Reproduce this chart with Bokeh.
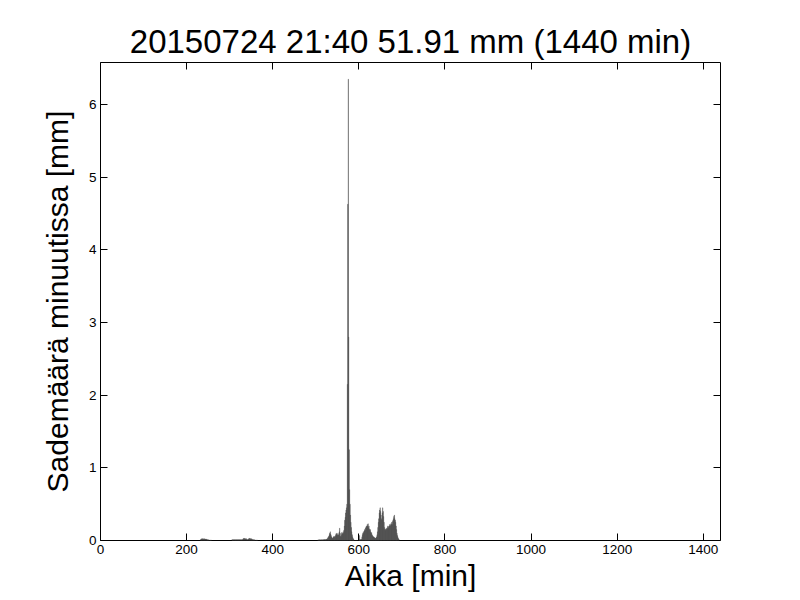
import numpy as np
from bokeh.plotting import figure
from bokeh.models import Range1d, FixedTicker, LinearAxis, ColumnDataSource
from bokeh.embed import file_html
from bokeh.resources import INLINE

title_text = "20150724 21:40 51.91 mm (1440 min)"
x_label = "Aika [min]"
y_label = "Sademäärä minuutissa [mm]"
x_ticks = [0, 200, 400, 600, 800, 1000, 1200, 1400]
y_ticks = [0, 1, 2, 3, 4, 5, 6]

# rain per minute [mm], clusters given as (start minute, values)
rain_a_start = 232
rain_a = [0.01, 0.02, 0.02, 0.025, 0.025, 0.02, 0.025, 0.02, 0.02, 0.025,
          0.02, 0.02, 0.015, 0.02, 0.015, 0.01, 0.01, 0.01, 0.01, 0.005,
          0.005, 0.005, 0.005, 0.005, 0.005, 0.005]

rain_b_start = 305
rain_b = [0.01, 0.01, 0.01, 0.01, 0.01, 0.01, 0.01, 0.01, 0.01, 0.01,
          0.01, 0.01, 0.01, 0.01, 0.01, 0.01, 0.01, 0.01, 0.01, 0.01,
          0.01, 0.01, 0.01, 0.01, 0.01, 0.015, 0.025, 0.025, 0.03, 0.025,
          0.025, 0.02, 0.025, 0.025, 0.015, 0.012, 0.012, 0.012, 0.02, 0.025,
          0.025, 0.03, 0.025, 0.025, 0.02, 0.025, 0.02, 0.015, 0.01, 0.01,
          0.01, 0.01, 0.01, 0.005, 0.005, 0.005, 0.005, 0.005, 0.005, 0.005]

rain_c_start = 504
rain_c = [0.005, 0.005, 0.01, 0.005, 0.01, 0.01, 0.005, 0.01, 0.01, 0.01,
          0.005, 0.01, 0.01, 0.01, 0.01, 0.015, 0.01, 0.01, 0.015, 0.01,
          0.015, 0.02, 0.02, 0.03, 0.04, 0.05, 0.06, 0.08, 0.1, 0.12,
          0.09, 0.07, 0.05, 0.04, 0.03, 0.03, 0.04, 0.05, 0.06, 0.05,
          0.04, 0.06, 0.08, 0.1, 0.09, 0.07, 0.08, 0.1, 0.08, 0.07,
          0.12, 0.17, 0.1, 0.06, 0.05, 0.08, 0.11, 0.1, 0.09, 0.12,
          0.1, 0.14, 0.2, 0.28, 0.32, 0.38, 0.42, 0.45, 0.5, 2.15,
          4.63, 6.35, 2.8, 1.25, 0.7, 0.5, 0.35, 0.25, 0.18, 0.12,
          0.08, 0.05, 0.03, 0.02, 0.01, 0.0, 0.0, 0.0, 0.0, 0.0,
          0.0, 0.005, 0.0, 0.0, 0.0, 0.0, 0.0, 0.07, 0.02, 0.01,
          0.01, 0.01, 0.02, 0.05, 0.08, 0.1, 0.12, 0.1, 0.13, 0.15,
          0.14, 0.17, 0.18, 0.2, 0.19, 0.22, 0.2, 0.23, 0.18, 0.2,
          0.16, 0.14, 0.15, 0.12, 0.1, 0.11, 0.08, 0.07, 0.06, 0.05,
          0.05, 0.04, 0.04, 0.03, 0.03, 0.03, 0.04, 0.05, 0.08, 0.12,
          0.18, 0.25, 0.3, 0.38, 0.42, 0.45, 0.4, 0.35, 0.3, 0.28,
          0.38, 0.45, 0.4, 0.33, 0.25, 0.18, 0.15, 0.14, 0.16, 0.15,
          0.17, 0.16, 0.18, 0.2, 0.17, 0.19, 0.2, 0.22, 0.2, 0.21,
          0.23, 0.22, 0.25, 0.22, 0.26, 0.28, 0.3, 0.33, 0.35, 0.3,
          0.28, 0.25, 0.2, 0.15, 0.1, 0.07, 0.05, 0.03, 0.02, 0.01]

minutes = []
values = []
for start, vals in ((rain_a_start, rain_a), (rain_b_start, rain_b), (rain_c_start, rain_c)):
    minutes.extend(range(start, start + len(vals)))
    values.extend(vals)
minutes = np.array(minutes, dtype=float)
values = np.array(values, dtype=float)

src = ColumnDataSource(dict(x=minutes + 0.5, top=values))

FONT = "Liberation Sans"

p = figure(width=800, height=600, output_backend="svg", toolbar_location=None,
           x_range=Range1d(0, 1440), y_range=Range1d(0, 6.58),
           min_border_left=100, min_border_right=80, min_border_top=62, min_border_bottom=60,
           x_axis_label=x_label, y_axis_label=y_label)
p.title.text = title_text
p.title.align = "center"
p.title.text_font = FONT
p.title.text_font_size = "33px"
p.title.text_font_style = "normal"
p.title.text_color = "black"
p.title.standoff = 5

p.vbar(x="x", top="top", width=1.0, bottom=0, source=src,
       fill_color="#4a4a4a", line_color="#4a4a4a", line_width=0.3)

p.grid.visible = False
p.outline_line_color = "black"
p.outline_line_width = 1
p.background_fill_color = "white"
p.border_fill_color = "white"

def style_axis(ax, ticks, labels=True):
    ax.ticker = FixedTicker(ticks=ticks)
    ax.axis_line_color = None
    ax.major_tick_in = 7
    ax.major_tick_out = 0
    ax.major_tick_line_color = "black"
    ax.minor_tick_line_color = None
    ax.major_label_text_font = FONT
    ax.major_label_text_font_size = "13.5px" if labels else "0px"
    ax.major_label_text_color = "black"
    ax.axis_label_text_font = FONT
    ax.axis_label_text_font_style = "normal"
    ax.axis_label_text_color = "black"

style_axis(p.xaxis[0], x_ticks)
style_axis(p.yaxis[0], y_ticks)
p.xaxis[0].axis_label_text_font_size = "30px"
p.yaxis[0].axis_label_text_font_size = "30px"
p.xaxis[0].major_label_standoff = 4
p.yaxis[0].major_label_standoff = 4
p.xaxis[0].axis_label_standoff = 2
p.yaxis[0].axis_label_standoff = 12

top_ax = LinearAxis()
style_axis(top_ax, x_ticks, labels=False)
top_ax.major_label_standoff = 0
p.add_layout(top_ax, "above")
right_ax = LinearAxis()
style_axis(right_ax, y_ticks, labels=False)
right_ax.major_label_standoff = 0
p.add_layout(right_ax, "right")

open("out.html", "w").write(file_html(p, INLINE))
